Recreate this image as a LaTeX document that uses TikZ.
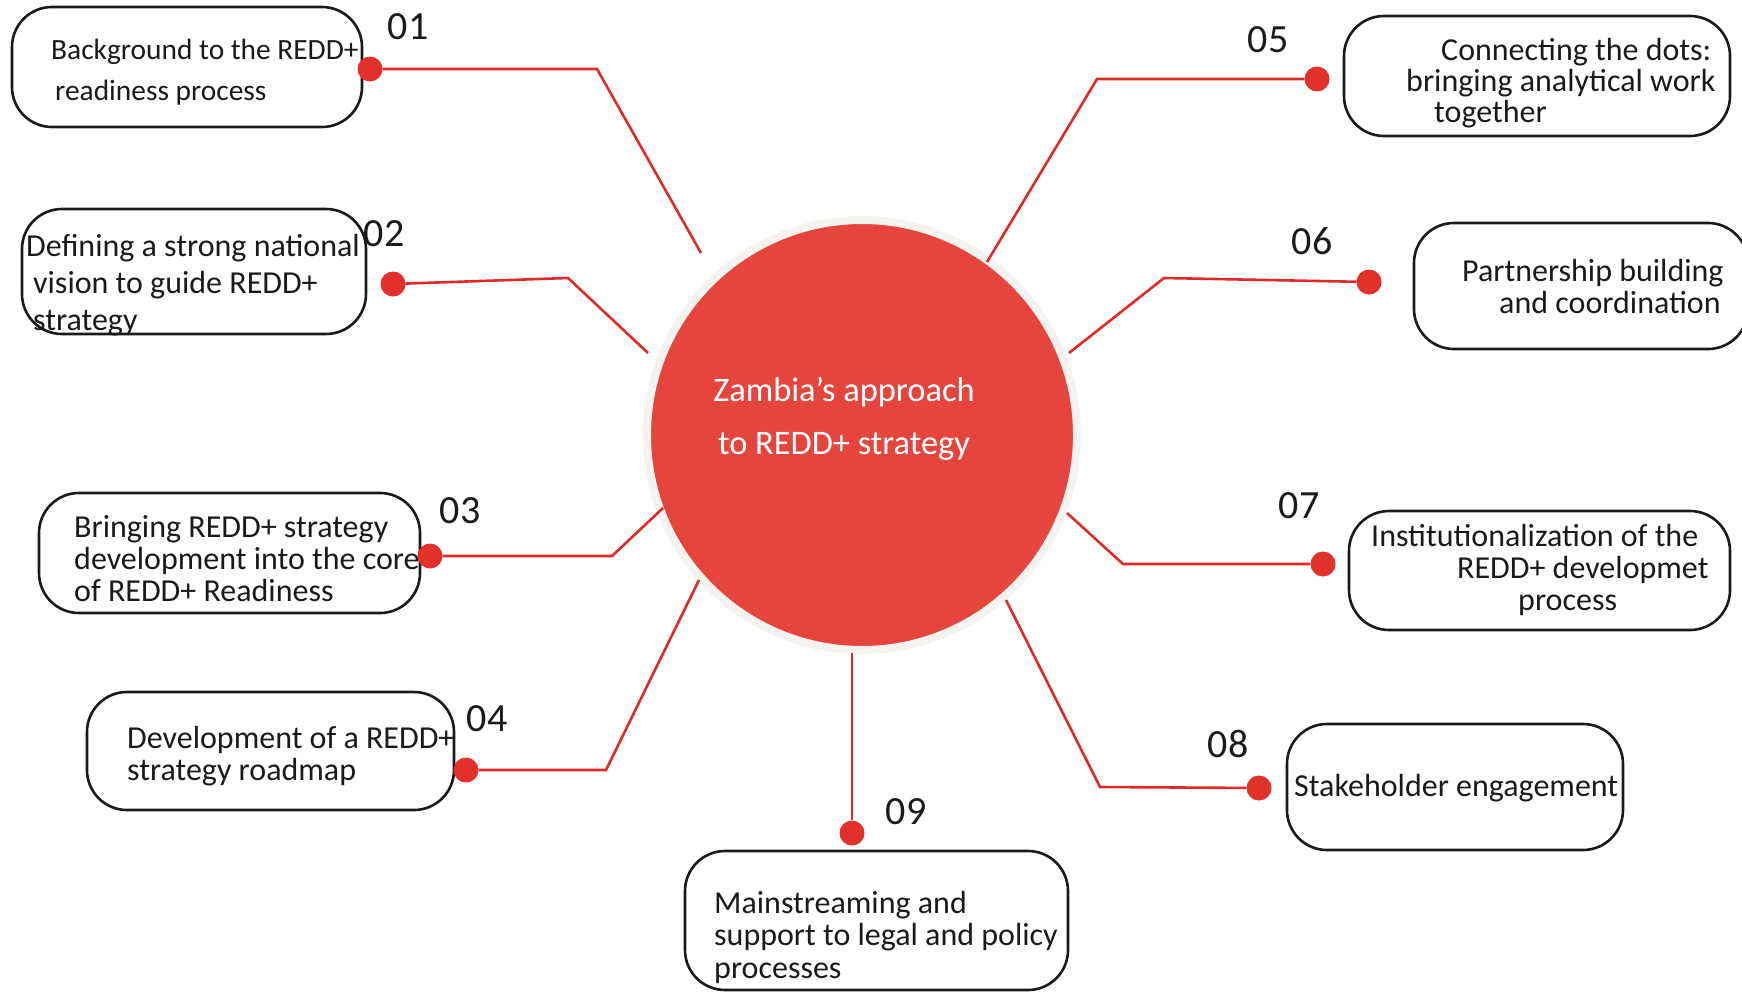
\documentclass[tikz,border=0pt]{standalone}
\usepackage{fontspec}
\setmainfont{Carlito}
\usepackage{tikz}
\usepackage{color}
\definecolor{ink}{HTML}{1A1A1A}
\definecolor{hubred}{HTML}{E5453D}
\definecolor{ringgray}{HTML}{F5F3F0}
\definecolor{linered}{HTML}{E02A27}
\definecolor{dotred}{HTML}{E3302B}

\begin{document}
\begin{tikzpicture}[x=1pt,y=-1pt,
    box/.style={draw=ink,line width=2.6pt,rounded corners=40pt,inner sep=0pt},
    txt/.style={text=ink,inner sep=0pt,align=left,
                font=\fontsize{32}{32}\selectfont},
    num/.style={text=ink,inner sep=0pt,font=\fontsize{40}{40}\selectfont},
    dot/.style={circle,fill=dotred,inner sep=0pt,minimum size=25pt},
    link/.style={draw=linered,line width=2.6pt},
    hub/.style={circle,fill=hubred,draw=ringgray,line width=8pt,
                minimum size=430pt,inner sep=0pt}]
  \useasboundingbox (0,0) rectangle (1742,991);

  % centre
  \node[hub] (hub) at (862,435) {};
  \node[txt,align=center,text=white,font=\fontsize{34.4}{53}\selectfont]
       (hubtxt) at ([xshift=-18pt,yshift=16pt]hub.center)
       {Zambia’s approach\\to REDD+ strategy};

  % boxes
  \node[box,minimum width=350pt,minimum height=120pt] (b01) at (187,67) {};
  \node[box,minimum width=344pt,minimum height=125pt] (b02) at (194,271.5) {};
  \node[box,minimum width=381pt,minimum height=120pt] (b03) at (229.5,553) {};
  \node[box,minimum width=367pt,minimum height=118pt] (b04) at (270.5,751) {};
  \node[box,minimum width=386pt,minimum height=120pt] (b05) at (1537,76) {};
  \node[box,minimum width=334pt,minimum height=126pt] (b06) at (1581,286) {};
  \node[box,minimum width=381pt,minimum height=119pt] (b07) at (1539.5,570.5) {};
  \node[box,minimum width=336pt,minimum height=126pt] (b08) at (1455,787) {};
  \node[box,minimum width=383pt,minimum height=139pt] (b09) at (876.5,920.5) {};

  % box texts
  \node[txt,anchor=west,font=\fontsize{29.4}{41}\selectfont] (t01) at (51,72)
       {Background to the REDD+\\\hspace*{4pt}readiness process};
  \node[txt,anchor=west,font=\fontsize{32}{37}\selectfont] (t02) at (26,285)
       {Defining a strong national\\\hspace*{7pt}vision to guide REDD+\\\hspace*{7pt}strategy};
  \node[txt,anchor=west] (t03) at (74,559)
       {Bringing REDD+ strategy\\development into the core\\of REDD+ Readiness};
  \node[txt,anchor=west] (t04) at (127,756)
       {Development of a REDD+\\strategy roadmap};
  \node[txt,anchor=west,font=\fontsize{32}{31}\selectfont] (t05) at (1406,83)
       {\hspace*{35pt}Connecting the dots:\\bringing analytical work\\\hspace*{28pt}together};
  \node[txt,anchor=west] (t06) at (1462,287)
       {Partnership building\\\hspace*{37pt}and coordination};
  \node[txt,anchor=west] (t07) at (1371,570)
       {Institutionalization of the\\\hspace*{86pt}REDD+ developmet\\\hspace*{147pt}process};
  \node[txt,anchor=west] (t08) at (1294,788) {Stakeholder engagement};
  \node[txt,anchor=west,font=\fontsize{32}{32.5}\selectfont] (t09) at (714,937)
       {Mainstreaming and\\support to legal and policy\\processes};

  % numbers
  \node[num] (n01) at (408,27)  {01};
  \node[num] (n02) at (384,234) {02};
  \node[num] (n03) at (460,511) {03};
  \node[num] (n04) at (487,719) {04};
  \node[num] (n05) at (1268,40) {05};
  \node[num] (n06) at (1312,241) {06};
  \node[num] (n07) at (1299,506) {07};
  \node[num] (n08) at (1228,744) {08};
  \node[num] (n09) at (906,812) {09};

  % bends and line ends
  \coordinate (k01) at (597,69);   \coordinate (e01) at (701,253);
  \coordinate (k02) at (568,278);  \coordinate (e02) at (648,353);
  \coordinate (k03) at (612,556);  \coordinate (e03) at (663,508);
  \coordinate (k04) at (606,770);  \coordinate (e04) at (699,580);
  \coordinate (k05) at (1097,79);  \coordinate (e05) at (987,262);
  \coordinate (k06) at (1164,278); \coordinate (e06) at (1069,353);
  \coordinate (k07) at (1123,564); \coordinate (e07) at (1067,513);
  \coordinate (k08) at (1100,787); \coordinate (e08) at (1006,600);
  \coordinate (e09) at (852,653);

  % dots
  \node[dot] (d01) at (370,69)   {};
  \node[dot] (d02) at (393,284)  {};
  \node[dot] (d03) at (430,556)  {};
  \node[dot] (d04) at (466,770)  {};
  \node[dot] (d05) at (1317,79)  {};
  \node[dot] (d06) at (1369,282) {};
  \node[dot] (d07) at (1323,564) {};
  \node[dot] (d08) at (1259,788) {};
  \node[dot] (d09) at (852,833)  {};

  \draw[link] (d01) -- (k01) -- (e01);
  \draw[link] (d02) -- (k02) -- (e02);
  \draw[link] (d03) -- (k03) -- (e03);
  \draw[link] (d04) -- (k04) -- (e04);
  \draw[link] (d05) -- (k05) -- (e05);
  \draw[link] (d06) -- (k06) -- (e06);
  \draw[link] (d07) -- (k07) -- (e07);
  \draw[link] (d08) -- (k08) -- (e08);
  \draw[link] (d09) -- (e09);
\end{tikzpicture}
\end{document}
